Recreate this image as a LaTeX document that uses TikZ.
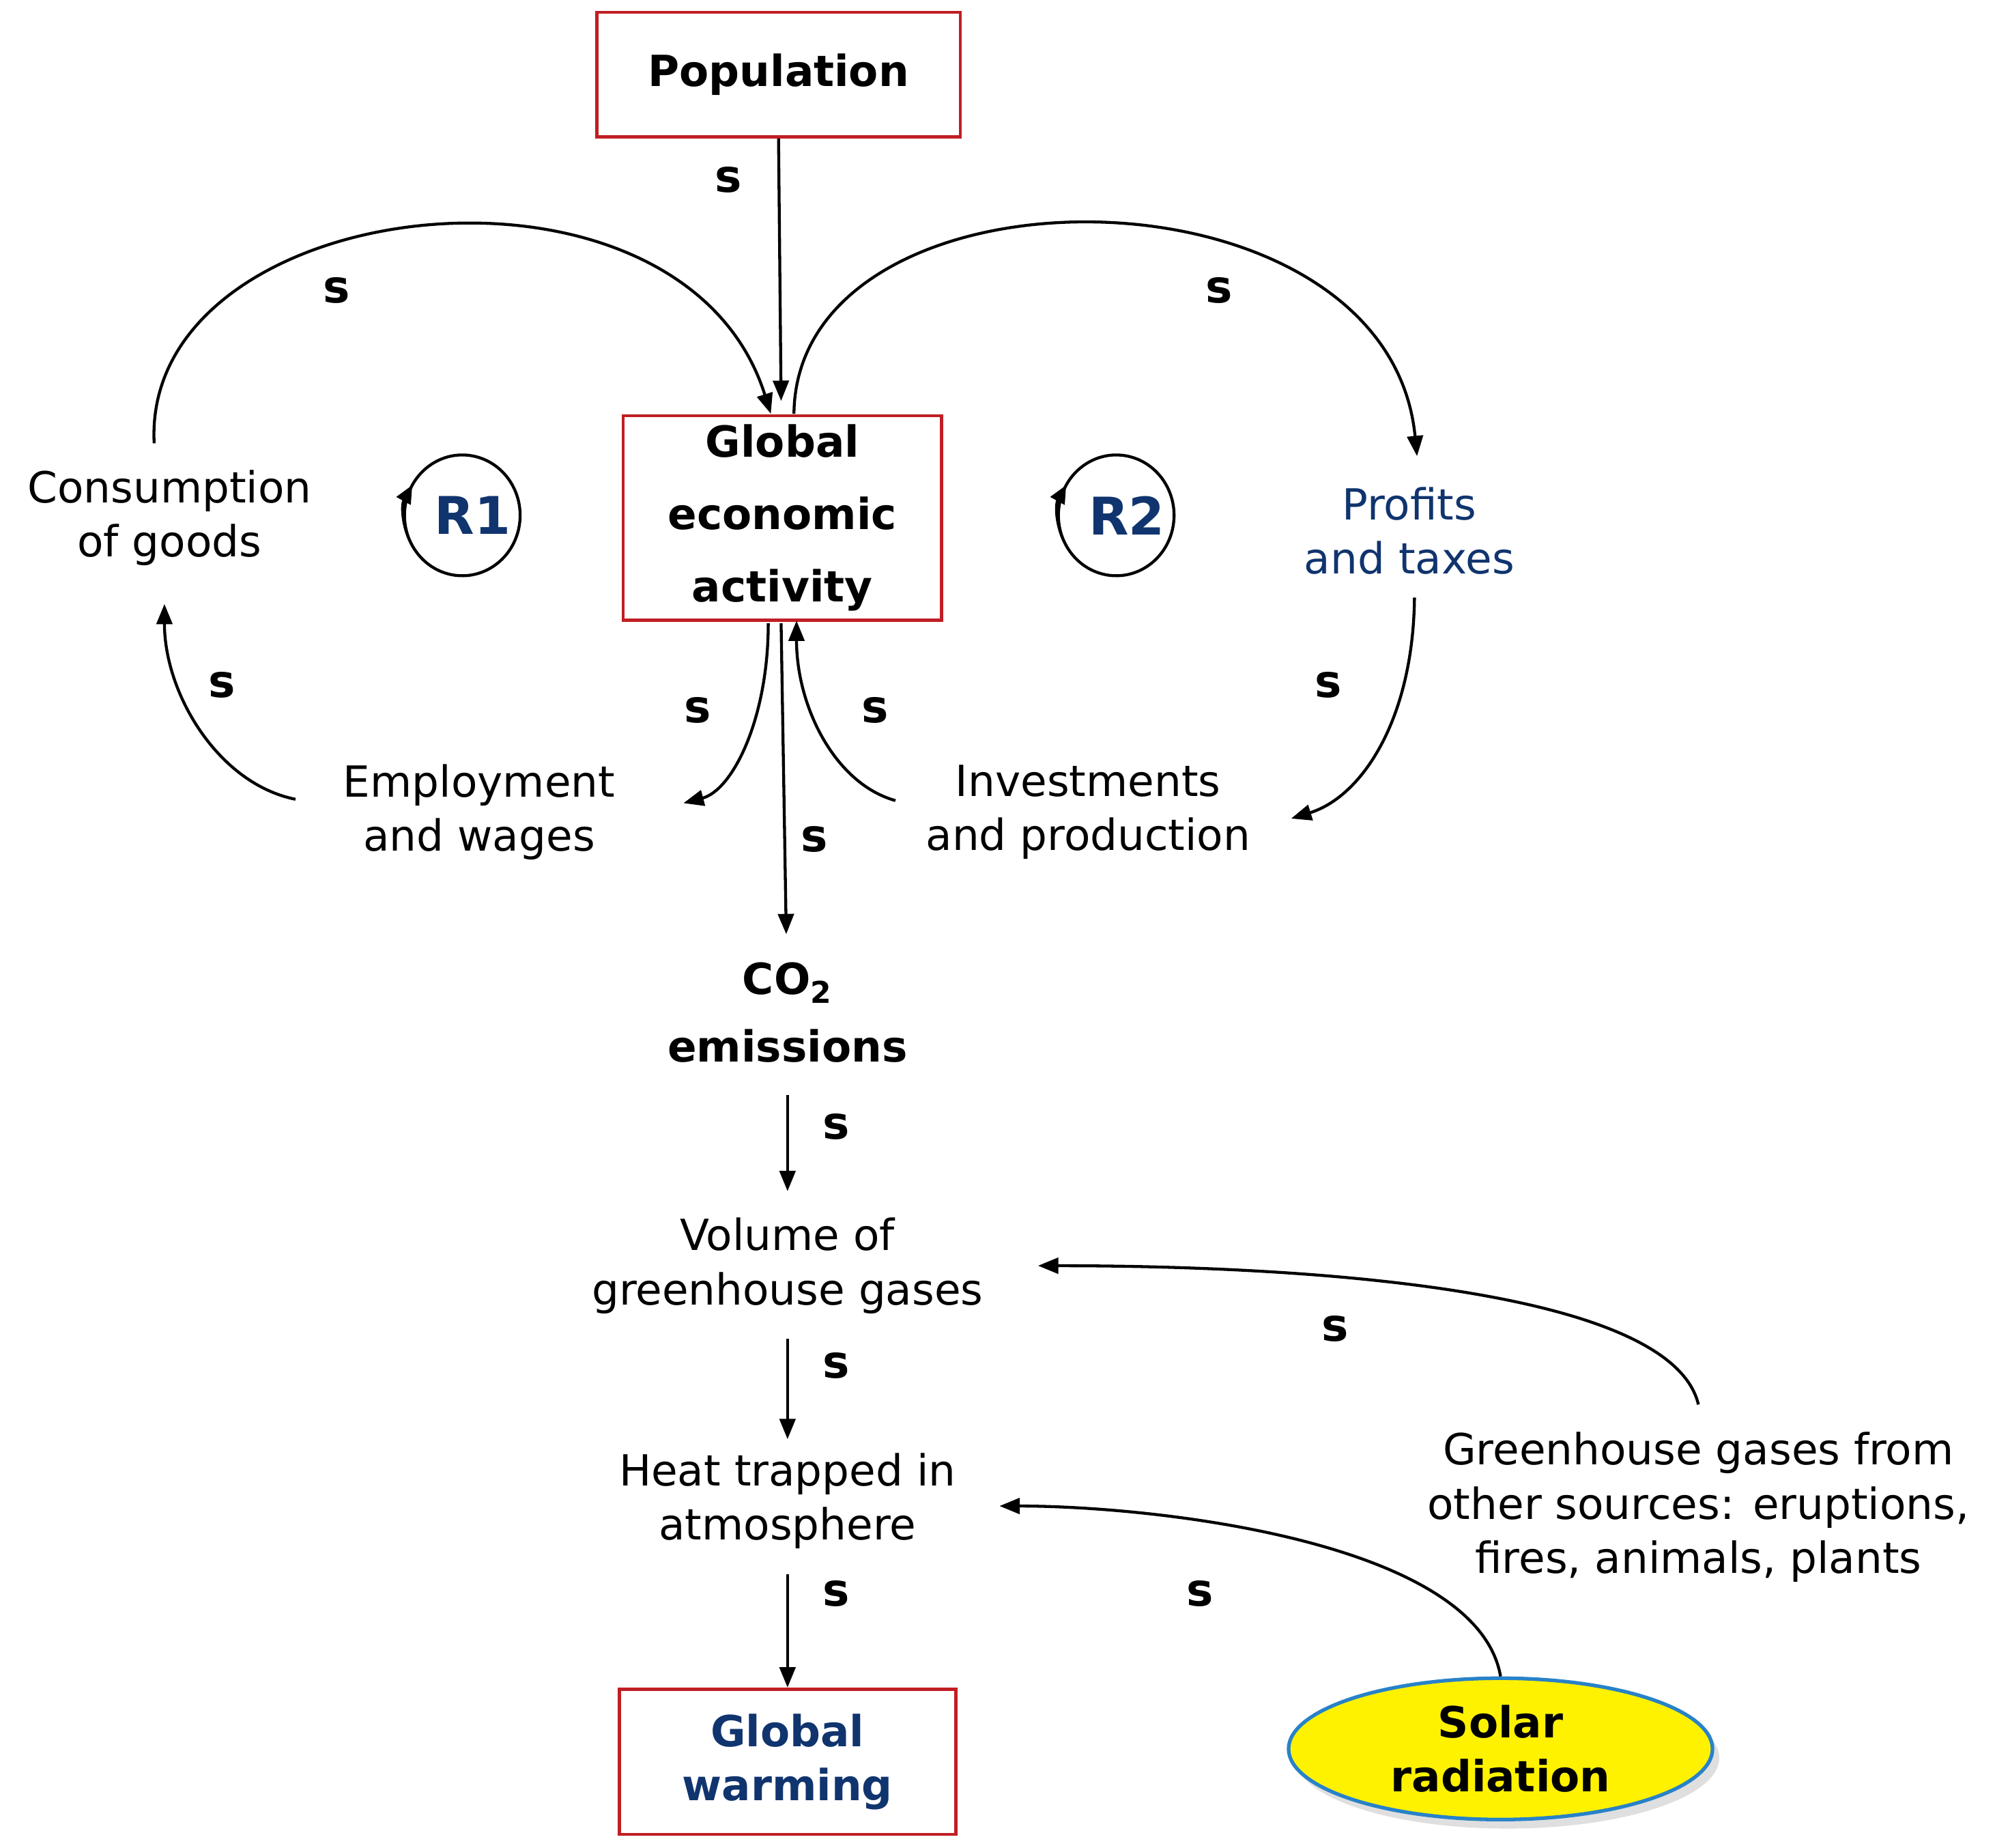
\documentclass[tikz,border=0pt]{standalone}
\usepackage{fontspec}
\setmainfont{DejaVu Sans}
\usetikzlibrary{arrows.meta,shapes.geometric,shadows}
\definecolor{boxred}{RGB}{192,30,35}
\definecolor{navy}{RGB}{16,52,110}
\definecolor{ellblue}{RGB}{40,130,200}
\begin{document}
\begin{tikzpicture}[x=0.02cm,y=-0.02cm,
  every node/.style={font=\fontsize{19}{24}\selectfont,align=center,inner sep=0pt},
  box/.style={draw=boxred,line width=1.4pt,fill=white},
  lbl/.style={font=\fontsize{20}{24}\selectfont\bfseries},
  arr/.style={line width=1.3pt,-{Triangle[length=9pt,width=7pt]}},
  loopl/.style={font=\fontsize{23}{26}\selectfont\bfseries,text=navy}]
\useasboundingbox (0,0) rectangle (1563,1438);
\node[box,minimum width=283*0.02cm,minimum height=97*0.02cm,font=\fontsize{19}{24}\selectfont\bfseries] (pop) at (606,58) {Population};
\node[box,minimum width=248*0.02cm,minimum height=159*0.02cm,font=\fontsize{19}{32}\selectfont\bfseries] (gea) at (609,403) {Global\\economic\\activity};
\node (cons) at (132,403) {Consumption\\of goods};
\node (emp) at (373,632) {Employment\\and wages};
\node (inv) at (847,632) {Investments\\and production};
\node[text=navy] (prof) at (1097,413) {Profits\\and taxes};
\node[font=\fontsize{19}{30}\selectfont\bfseries] (co2) at (613,788) {CO\textsubscript{2}\\emissions};
\node (vol) at (613,985) {Volume of\\greenhouse gases};
\node (heat) at (613,1168) {Heat trapped in\\atmosphere};
\node (other) at (1322,1173) {Greenhouse gases from\\other sources: eruptions,\\fires, animals, plants};
\node[box,minimum width=262*0.02cm,minimum height=113*0.02cm,text=navy,font=\fontsize{19}{24}\selectfont\bfseries] (gw) at (613,1371) {Global\\warming};
\node[ellipse,draw=ellblue,line width=1.6pt,fill=yellow,minimum width=330*0.02cm,minimum height=110*0.02cm,
  drop shadow={shadow xshift=3pt,shadow yshift=-4pt,fill=black!25},font=\fontsize{19}{24}\selectfont\bfseries] (sol) at (1168,1361) {Solar\\radiation};
% loops
\node[loopl] (r1) at (368,401) {R1};
\node[loopl] (r2) at (877,401) {R2};
\draw[line width=1.3pt,-{Triangle[length=8pt,width=7pt]}] (323,428) arc[start angle=215,end angle=-210,x radius=45,y radius=-47] coordinate (r1e);
\draw[line width=1.3pt,-{Triangle[length=8pt,width=7pt]}] (832,428) arc[start angle=215,end angle=-210,x radius=45,y radius=-47] coordinate (r2e);
% connectors
\draw[arr] (pop.south) -- (608,312) coordinate (g1);
\draw[arr] (120,345) .. controls (110,150) and (530,100) .. (600,322) coordinate (g2);
\draw[arr] (618,322) .. controls (620,120) and (1080,120) .. (1103,355) coordinate (p1);
\draw[arr] (1101,465) .. controls (1100,560) and (1060,620) .. (1005,637) coordinate (i1);
\draw[arr] (697,623) .. controls (650,610) and (620,550) .. (620,483) coordinate (g3);
\draw[arr] (598,485) .. controls (598,560) and (570,615) .. (532,625) coordinate (e1);
\draw[arr] (230,622) .. controls (170,610) and (128,540) .. (128,470) coordinate (c1);
\draw[arr] (608,485) -- (612,727) coordinate (c2);
\draw[arr] (613,852) -- (613,927);
\draw[arr] (613,1042) -- (613,1120);
\draw[arr] (613,1225) -- (gw.north);
\draw[arr] (1322,1093) .. controls (1300,1000) and (1000,985) .. (808,985);
\draw[arr] (sol.north) .. controls (1150,1200) and (900,1172) .. (778,1172);
% s labels
\foreach \x/\y in {567/140,262/226,949/226,1034/533,681/553,543/553,173/533,634/653,651/877,651/1063,651/1240,1039/1034,934/1240}
  \node[lbl] at (\x,\y) {s};
\end{tikzpicture}
\end{document}
